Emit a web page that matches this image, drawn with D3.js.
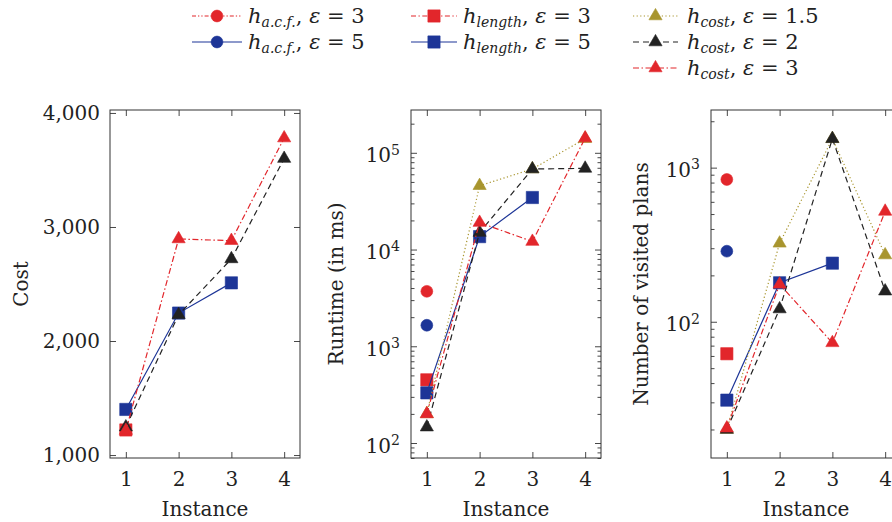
<!DOCTYPE html>
<html>
<head>
<meta charset="utf-8">
<script src="https://cdn.jsdelivr.net/npm/d3@7"></script>
<style>
  body { margin: 0; background: #fff; }
  svg { display: block; }
  svg text { font-family: "DejaVu Serif", "Liberation Serif", serif; }
  .domain { display: none; }
  .tick line { stroke: #333; stroke-width: 0.9; }
  .tick text { fill: #222; font-family: "DejaVu Serif", "Liberation Serif", serif; }
</style>
</head>
<body>
<svg id="chart" width="892" height="522"></svg>
<script>
// x categories
var instances = [1, 2, 3, 4];

// panel 1: cost
var cost_acfE3 = [null, null, null, null];
var cost_acfE5 = [null, null, null, null];
var cost_lenE3 = [1220, null, null, null];
var cost_lenE5 = [1400, 2245, 2510, null];
var cost_costE15 = [null, null, null, null];
var cost_costE2 = [1245, 2230, 2720, 3600];
var cost_costE3 = [1215, 2895, 2880, 3780];

// panel 2: runtime (ms)
var rt_acfE3 = [3700, null, null, null];
var rt_acfE5 = [1650, null, null, null];
var rt_lenE3 = [450, null, null, null];
var rt_lenE5 = [330, 13600, 34500, null];
var rt_costE15 = [200, 45700, 68000, 140000];
var rt_costE2 = [146, 15000, 68000, 69000];
var rt_costE3 = [200, 19000, 12100, 142000];

// panel 3: visited plans
var vp_acfE3 = [838, null, null, null];
var vp_acfE5 = [287, null, null, null];
var vp_lenE3 = [62, null, null, null];
var vp_lenE5 = [31, 179, 240, null];
var vp_costE15 = [20, 323, 1540, 271];
var vp_costE2 = [20, 121, 1540, 158];
var vp_costE3 = [20.4, 175, 73, 520];

// tick labels
var costTicks = [1000, 2000, 3000, 4000];
var rtTicks = [100, 1000, 10000, 100000];
var vpTicks = [100, 1000];

// legend
var seriesKeys = ["acfE3", "acfE5", "lenE3", "lenE5", "costE15", "costE2", "costE3"];
var legendSub = ["a.c.f.", "a.c.f.", "length", "length", "cost", "cost", "cost"];
var legendEps = ["3", "5", "3", "5", "1.5", "2", "3"];

var RED = "#e2262b", BLUE = "#1d3597", BLACK = "#222", GOLD = "#a8952e";
var style = {
  acfE3:  {color: RED,   shape: d3.symbolCircle,   size: 110, dash: "4 2 1.3 2 1.3 2"},
  acfE5:  {color: BLUE,  shape: d3.symbolCircle,   size: 110, dash: null},
  lenE3:  {color: RED,   shape: d3.symbolSquare,   size: 150, dash: "5 2.5 1.3 2.5"},
  lenE5:  {color: BLUE,  shape: d3.symbolSquare,   size: 150, dash: null},
  costE15:{color: GOLD,  shape: d3.symbolTriangle, size: 75,  dash: "1.2 2.4"},
  costE2: {color: BLACK, shape: d3.symbolTriangle, size: 75,  dash: "6 4"},
  costE3: {color: RED,   shape: d3.symbolTriangle, size: 75,  dash: "6 2.5 1.5 2.5"}
};

var svg = d3.select("#chart");

var panels = [
  {x0: 110, label: "Cost", labelX: 21, log: false, domain: [974, 4026], ticks: costTicks,
   data: {acfE3: cost_acfE3, acfE5: cost_acfE5, lenE3: cost_lenE3, lenE5: cost_lenE5,
          costE15: cost_costE15, costE2: cost_costE2, costE3: cost_costE3}},
  {x0: 411, label: "Runtime (in ms)", labelX: 336, log: true, domain: [70, 277000], ticks: rtTicks,
   data: {acfE3: rt_acfE3, acfE5: rt_acfE5, lenE3: rt_lenE3, lenE5: rt_lenE5,
          costE15: rt_costE15, costE2: rt_costE2, costE3: rt_costE3}},
  {x0: 711, label: "Number of visited plans", labelX: 641, log: true, domain: [13.06, 2366], ticks: vpTicks,
   data: {acfE3: vp_acfE3, acfE5: vp_acfE5, lenE3: vp_lenE3, lenE5: vp_lenE5,
          costE15: vp_costE15, costE2: vp_costE2, costE3: vp_costE3}}
];

var plotTop = 110, plotBottom = 458, panelW = 190;

function superLabel(sel, v) {
  var e = Math.round(Math.log10(v));
  sel.text(null);
  sel.append("tspan").text("10");
  sel.append("tspan").attr("dy", "-0.55em").style("font-size", "14px").text(e);
}

panels.forEach(function(p) {
  var x = d3.scaleLinear().domain([0.7, 4.3]).range([p.x0, p.x0 + panelW]);
  var y = (p.log ? d3.scaleLog() : d3.scaleLinear()).domain(p.domain).range([plotBottom, plotTop]);
  var g = svg.append("g");

  // frame
  g.append("rect")
    .attr("x", p.x0).attr("y", plotTop)
    .attr("width", panelW).attr("height", plotBottom - plotTop)
    .attr("fill", "none").attr("stroke", "#333").attr("stroke-width", 1);

  // x axes (bottom with labels, top ticks only)
  g.append("g")
    .attr("transform", "translate(0," + plotBottom + ")")
    .call(d3.axisBottom(x).tickValues(instances).tickSize(-6).tickPadding(14).tickFormat(d3.format("d")))
    .selectAll("text").style("font-size", "20px");
  g.append("g")
    .attr("transform", "translate(0," + plotTop + ")")
    .call(d3.axisTop(x).tickValues(instances).tickSize(-6).tickFormat(""));

  // y axes
  var left = d3.axisLeft(y).tickValues(p.ticks).tickSize(-6).tickPadding(10);
  if (p.log) left.tickFormat(function() { return ""; });
  else left.tickFormat(d3.format(","));
  var ly = g.append("g").attr("transform", "translate(" + p.x0 + ",0)").call(left);
  ly.selectAll("text").style("font-size", "20px");
  if (p.log) {
    ly.selectAll(".tick text").each(function(d) { superLabel(d3.select(this), d); })
      .attr("dy", "0.45em").attr("x", -11);
  }
  g.append("g").attr("transform", "translate(" + (p.x0 + panelW) + ",0)")
    .call(d3.axisRight(y).tickValues(p.ticks).tickSize(-6).tickFormat(""));

  if (p.log) {
    var minor = y.ticks().filter(function(v) { return p.ticks.indexOf(v) < 0; });
    g.append("g").attr("transform", "translate(" + p.x0 + ",0)")
      .call(d3.axisLeft(y).tickValues(minor).tickSize(-3.5).tickFormat(""));
    g.append("g").attr("transform", "translate(" + (p.x0 + panelW) + ",0)")
      .call(d3.axisRight(y).tickValues(minor).tickSize(-3.5).tickFormat(""));
  }

  // axis titles
  g.append("text")
    .attr("transform", "translate(" + p.labelX + "," + ((plotTop + plotBottom) / 2) + ") rotate(-90)")
    .attr("text-anchor", "middle").attr("dy", "0.35em")
    .style("font-size", "20px").attr("fill", "#222")
    .text(p.label);
  g.append("text")
    .attr("x", p.x0 + panelW / 2).attr("y", 516)
    .attr("text-anchor", "middle")
    .style("font-size", "20px").attr("fill", "#222")
    .text("Instance");

  // series
  var line = d3.line()
    .defined(function(d) { return d.v != null; })
    .x(function(d) { return x(d.i); })
    .y(function(d) { return y(d.v); });

  seriesKeys.forEach(function(k) {
    var s = style[k];
    var pts = p.data[k].map(function(v, j) { return {i: instances[j], v: v}; });
    g.append("path")
      .datum(pts)
      .attr("d", line)
      .attr("fill", "none")
      .attr("stroke", s.color)
      .attr("stroke-width", 1.2)
      .attr("stroke-dasharray", s.dash);
    g.selectAll(null)
      .data(pts.filter(function(d) { return d.v != null; }))
      .enter().append("path")
      .attr("transform", function(d) { return "translate(" + x(d.i) + "," + y(d.v) + ")"; })
      .attr("d", d3.symbol().type(s.shape).size(s.size))
      .attr("fill", s.color)
      .attr("stroke", s.color)
      .attr("stroke-width", 0.6);
  });
});

// legend
var legCols = [{x0: 192, x1: 242, tx: 248}, {x0: 411, x1: 457, tx: 463}, {x0: 633, x1: 678, tx: 687}];
var legRows = [16, 42, 68];
var legPos = [[0, 0], [0, 1], [1, 0], [1, 1], [2, 0], [2, 1], [2, 2]];

seriesKeys.forEach(function(k, idx) {
  var s = style[k];
  var c = legCols[legPos[idx][0]];
  var yy = legRows[legPos[idx][1]];
  var lg = svg.append("g");
  lg.append("line")
    .attr("x1", c.x0).attr("x2", c.x1).attr("y1", yy).attr("y2", yy)
    .attr("stroke", s.color).attr("stroke-width", 1.2)
    .attr("stroke-dasharray", s.dash);
  lg.append("path")
    .attr("transform", "translate(" + ((c.x0 + c.x1) / 2) + "," + yy + ")")
    .attr("d", d3.symbol().type(s.shape).size(s.size))
    .attr("fill", s.color).attr("stroke", s.color).attr("stroke-width", 0.6);
  var t = lg.append("text")
    .attr("x", c.tx).attr("y", yy + 7)
    .style("font-size", "21px").attr("fill", "#222");
  t.append("tspan").style("font-style", "italic").text("h");
  t.append("tspan").style("font-style", "italic").style("font-size", "14px")
    .attr("dy", 4).text(legendSub[idx]);
  t.append("tspan").attr("dy", -4).text(", ");
  t.append("tspan").style("font-style", "italic").text("\u03b5");
  t.append("tspan").text(" = " + legendEps[idx]);
});
</script>
</body>
</html>
